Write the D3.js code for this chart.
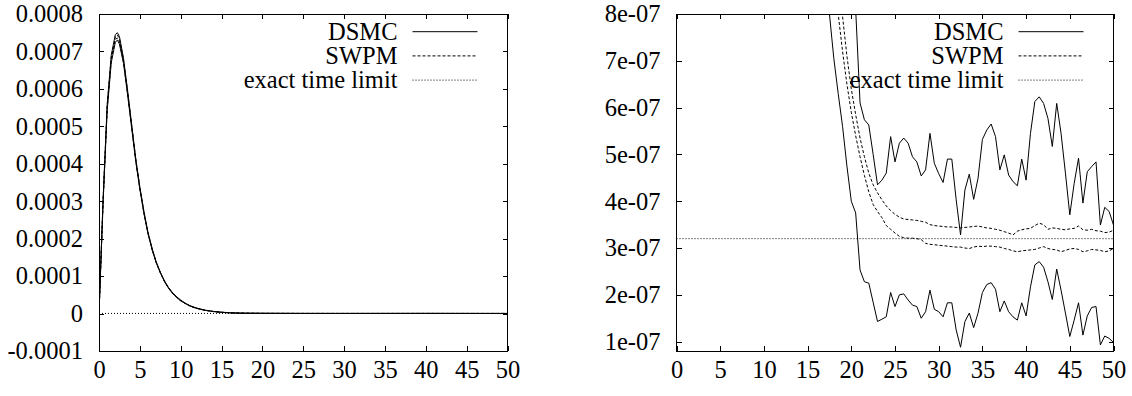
<!DOCTYPE html>
<html>
<head>
<meta charset="utf-8">
<script src="https://cdn.jsdelivr.net/npm/d3@7"></script>
<style>
  body { margin: 0; background: #fff; }
  svg { display: block; background: #fff; }
</style>
</head>
<body>
<div id="chart"></div>
<script>
// ---- data ----
// left panel: values in units of 1e-4
var leftT = [0, 0.5, 1, 1.5, 2, 2.25, 2.5, 3, 3.5, 4, 4.5, 5, 5.5, 6, 6.5, 7, 7.5, 8, 8.5, 9, 9.5,
  10, 10.5, 11, 11.5, 12, 13, 14, 15, 16, 17, 18, 20, 25, 30, 35, 40, 45, 50];
var leftDsmcHi = [0, 3.05, 5.58, 6.9, 7.45, 7.5, 7.4, 6.82, 5.96, 5.05, 4.14, 3.38, 2.73, 2.17, 1.74, 1.38, 1.11,
  0.88, 0.7, 0.56, 0.45, 0.36, 0.285, 0.225, 0.18, 0.145, 0.09, 0.057, 0.036, 0.023, 0.015, 0.012, 0.009,
  0.005, 0.0045, 0.005, 0.006, 0.0045, 0.0035];
var leftDsmcLo = [0, 2.95, 5.42, 6.7, 7.25, 7.3, 7.2, 6.68, 5.84, 4.95, 4.06, 3.32, 2.67, 2.13, 1.7, 1.36, 1.09,
  0.86, 0.68, 0.54, 0.43, 0.34, 0.275, 0.215, 0.17, 0.135, 0.086, 0.053, 0.032, 0.019, 0.011, 0.006, 0.004,
  0.0015, 0.0016, 0.002, 0.0025, 0.0015, 0.001];
var leftSwpmHi = [0, 3.02, 5.52, 6.84, 7.39, 7.44, 7.34, 6.77, 5.92, 5.02, 4.12, 3.36, 2.71, 2.16, 1.73, 1.37, 1.1,
  0.87, 0.69, 0.55, 0.44, 0.35, 0.28, 0.22, 0.175, 0.14, 0.088, 0.055, 0.034, 0.021, 0.013, 0.009, 0.005,
  0.0037, 0.0035, 0.0034, 0.0034, 0.0034, 0.0034];
var leftSwpmLo = [0, 2.98, 5.47, 6.78, 7.32, 7.36, 7.26, 6.72, 5.88, 4.99, 4.09, 3.34, 2.69, 2.14, 1.71, 1.36, 1.09,
  0.86, 0.68, 0.54, 0.43, 0.34, 0.275, 0.217, 0.172, 0.138, 0.087, 0.054, 0.033, 0.02, 0.012, 0.008, 0.0045,
  0.0033, 0.003, 0.003, 0.003, 0.003, 0.003];

// right panel: values in units of 1e-7
var rightT = [16.5, 17, 17.5, 18, 18.5, 19, 19.5, 20, 20.5, 21, 21.5, 22, 22.5, 23, 23.5, 24, 24.5,
  25, 25.5, 26, 26.5, 27, 27.5, 28, 28.5, 29, 29.5, 30, 30.5, 31, 31.5, 32, 32.5, 33, 33.5,
  34, 34.5, 35, 35.5, 36, 36.5, 37, 37.5, 38, 38.5, 39, 39.5, 40, 40.5, 41, 41.5, 42, 42.5,
  43, 43.5, 44, 44.5, 45, 45.5, 46, 46.5, 47, 47.5, 48, 48.5, 49, 49.5, 50];
var rightDsmcHi = [15.0, 14.0, 13.0, 12.2, 11.5, 10.8, 10.0, 9.2, 8.1, 6.1, 5.74, 5.63, 5.0, 4.35, 4.45, 4.6, 5.38,
  4.84, 5.24, 5.35, 5.24, 4.95, 4.84, 4.54, 4.67, 5.45, 4.81, 4.59, 4.4, 4.9, 4.9, 4.03, 3.28, 4.24, 4.58,
  4.04, 4.49, 5.32, 5.52, 5.65, 5.38, 4.67, 4.99, 4.56, 4.42, 4.33, 4.9, 4.45, 5.45, 6.13, 6.23, 6.09, 5.77,
  5.17, 6.09, 5.45, 4.6, 3.71, 4.38, 4.92, 3.96, 4.63, 4.74, 4.84, 3.49, 3.87, 3.78, 3.49];
var rightDsmcLo = [10.4, 9.2, 8.0, 7.05, 6.3, 5.6, 4.75, 4.0, 3.75, 2.53, 2.28, 2.25, 1.84, 1.43, 1.48, 1.53, 2.05,
  1.75, 2.0, 2.02, 1.89, 1.78, 1.75, 1.5, 1.64, 2.1, 1.69, 1.64, 1.53, 1.83, 1.83, 1.25, 0.88, 1.43, 1.61,
  1.3, 1.61, 2.05, 2.22, 2.26, 2.12, 1.64, 1.87, 1.64, 1.53, 1.46, 1.83, 1.55, 2.17, 2.64, 2.71, 2.59, 2.28,
  1.9, 2.55, 2.1, 1.61, 1.11, 1.46, 1.83, 1.14, 1.55, 1.73, 1.75, 0.93, 1.12, 1.07, 0.98];
var rightSwpmHi = [13.8, 12.5, 11.2, 10.0, 8.9, 7.95, 7.1, 6.4, 5.85, 5.35, 4.95, 4.6, 4.35, 4.18, 4.03, 3.9, 3.8,
  3.72, 3.66, 3.62, 3.61, 3.6, 3.59, 3.57, 3.55, 3.5, 3.48, 3.47, 3.46, 3.45, 3.45, 3.44, 3.43, 3.44, 3.45,
  3.46, 3.47, 3.45, 3.43, 3.42, 3.4, 3.38, 3.35, 3.32, 3.28, 3.36, 3.39, 3.41, 3.42, 3.48, 3.53, 3.5, 3.4,
  3.43, 3.42, 3.4, 3.39, 3.41, 3.42, 3.47, 3.39, 3.38, 3.4, 3.37, 3.36, 3.33, 3.34, 3.38];
var rightSwpmLo = [12.3, 11.1, 10.0, 8.9, 8.0, 7.2, 6.5, 5.9, 5.4, 4.95, 4.55, 4.2, 3.93, 3.78, 3.65, 3.48, 3.4,
  3.32, 3.25, 3.22, 3.21, 3.21, 3.2, 3.18, 3.1, 3.08, 3.07, 3.06, 3.05, 3.04, 3.03, 3.02, 3.02, 3.0, 2.99,
  3.02, 3.04, 3.03, 3.04, 3.04, 3.03, 3.02, 2.99, 2.97, 2.94, 2.92, 2.94, 2.95, 2.96, 2.97, 3.0, 3.03, 2.99,
  2.97, 2.96, 2.92, 2.95, 2.98, 2.99, 2.97, 2.92, 2.94, 2.97, 2.96, 2.95, 2.92, 2.94, 2.99];

// exact time limit, 3.2e-07
var exactLimit = 3.2e-7;

var xTicks = [0, 5, 10, 15, 20, 25, 30, 35, 40, 45, 50];
var leftYTicks = [-1, 0, 1, 2, 3, 4, 5, 6, 7, 8];
var leftYLabels = ["-0.0001", "0", "0.0001", "0.0002", "0.0003", "0.0004", "0.0005", "0.0006", "0.0007", "0.0008"];
var rightYTicks = [1, 2, 3, 4, 5, 6, 7, 8];
var rightYLabels = ["1e-07", "2e-07", "3e-07", "4e-07", "5e-07", "6e-07", "7e-07", "8e-07"];
var legendLabels = ["DSMC", "SWPM", "exact time limit"];

// ---- layout ----
var svgWidth = 1132;
var svgHeight = 396;
var fontFamily = "'Liberation Serif', 'Times New Roman', serif";
var fontSize = 24.5;
var dashes = [null, "3,2", "1,2"];

var svg = d3.select("#chart")
  .append("svg")
  .attr("width", svgWidth)
  .attr("height", svgHeight);

function zip(t, v) {
  return t.map((d, i) => [d, v[i]]);
}

function drawPanel(p) {
  var x = d3.scaleLinear().domain([0, 50]).range([p.left, p.right]);
  var y = d3.scaleLinear().domain(p.yDomain).range([p.bottom, p.top]);

  var g = svg.append("g");

  g.append("clipPath")
    .attr("id", p.id + "-clip")
    .append("rect")
    .attr("x", p.left)
    .attr("y", p.top)
    .attr("width", p.right - p.left)
    .attr("height", p.bottom - p.top);

  // axes, ticks pointing inward on all four sides
  var bottomAxis = d3.axisBottom(x).tickValues(xTicks).tickSize(-5).tickSizeOuter(0).tickPadding(10);
  var topAxis = d3.axisTop(x).tickValues(xTicks).tickSize(-5).tickSizeOuter(0).tickFormat("");
  var leftAxis = d3.axisLeft(y).tickValues(p.yTicks).tickSize(-5).tickSizeOuter(0).tickPadding(16)
    .tickFormat((d, i) => p.yLabels[i]);
  var rightAxis = d3.axisRight(y).tickValues(p.yTicks).tickSize(-5).tickSizeOuter(0).tickFormat("");

  [[bottomAxis, `translate(0, ${p.bottom})`], [topAxis, `translate(0, ${p.top})`],
   [leftAxis, `translate(${p.left}, 0)`], [rightAxis, `translate(${p.right}, 0)`]].forEach(function(a) {
    var ag = g.append("g")
      .attr("transform", a[1])
      .call(a[0])
      .attr("font-family", fontFamily)
      .attr("font-size", fontSize);
    ag.select(".domain").remove();
    ag.selectAll(".tick line").attr("stroke", "#000").attr("shape-rendering", "crispEdges");
    ag.selectAll(".tick text").attr("fill", "#000");
  });

  g.append("rect")
    .attr("x", p.left)
    .attr("y", p.top)
    .attr("width", p.right - p.left)
    .attr("height", p.bottom - p.top)
    .attr("fill", "none")
    .attr("stroke", "#000")
    .attr("shape-rendering", "crispEdges");

  var line = d3.line()
    .x(d => x(d[0]))
    .y(d => y(d[1]));

  var plot = g.append("g").attr("clip-path", `url(#${p.id}-clip)`);

  // exact time limit
  plot.append("line")
    .attr("x1", p.left)
    .attr("x2", p.right)
    .attr("y1", y(exactLimit / p.unit))
    .attr("y2", y(exactLimit / p.unit))
    .attr("stroke", "#000")
    .attr("stroke-width", 1)
    .attr("stroke-dasharray", dashes[2]);

  p.series.forEach(function(s) {
    plot.append("path")
      .datum(zip(p.t, s.values))
      .attr("fill", "none")
      .attr("stroke", "#000")
      .attr("stroke-width", 1)
      .attr("stroke-dasharray", dashes[s.style])
      .attr("d", line);
  });

  // legend
  var legend = g.append("g");
  legendLabels.forEach(function(label, i) {
    var ly = 31.7 + i * 24.2;
    legend.append("text")
      .attr("x", p.right - 110)
      .attr("y", ly)
      .attr("dy", "0.33em")
      .attr("text-anchor", "end")
      .attr("font-family", fontFamily)
      .attr("font-size", fontSize)
      .attr("fill", "#000")
      .text(label);
    legend.append("line")
      .attr("x1", p.right - 95)
      .attr("x2", p.right - 30)
      .attr("y1", ly)
      .attr("y2", ly)
      .attr("stroke", "#000")
      .attr("stroke-width", 1)
      .attr("stroke-dasharray", dashes[i]);
  });
}

drawPanel({
  id: "left",
  left: 99, right: 507.5, top: 14, bottom: 351,
  yDomain: [-1, 8],
  unit: 1e-4,
  yTicks: leftYTicks,
  yLabels: leftYLabels,
  t: leftT,
  series: [
    { values: leftDsmcHi, style: 0 },
    { values: leftDsmcLo, style: 0 },
    { values: leftSwpmHi, style: 1 },
    { values: leftSwpmLo, style: 1 }
  ]
});

drawPanel({
  id: "right",
  left: 676.5, right: 1113.5, top: 14, bottom: 351,
  yDomain: [0.8, 8],
  unit: 1e-7,
  yTicks: rightYTicks,
  yLabels: rightYLabels,
  t: rightT,
  series: [
    { values: rightDsmcHi, style: 0 },
    { values: rightDsmcLo, style: 0 },
    { values: rightSwpmHi, style: 1 },
    { values: rightSwpmLo, style: 1 }
  ]
});
</script>
</body>
</html>
